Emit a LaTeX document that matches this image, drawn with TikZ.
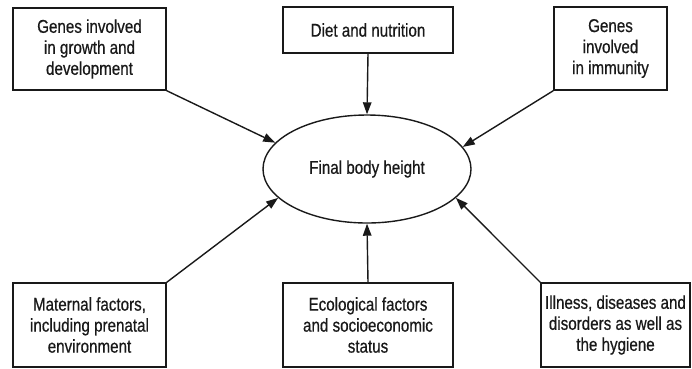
\documentclass[tikz,border=0pt]{standalone}
\usepackage{fontspec}
\setmainfont[FakeStretch=0.82,FakeBold=0.6]{Liberation Sans}
\usetikzlibrary{shapes.geometric,arrows.meta}
\begin{document}
\begin{tikzpicture}[x=1pt,y=-1pt,
  every node/.style={font=\fontsize{18.5}{21}\selectfont, text=black!90},
  box/.style={draw=black!90, line width=1.4pt, rectangle, align=center, inner sep=0pt},
  arr/.style={draw=black!90, line width=1.4pt, -{Triangle[length=12pt,width=8.5pt]}}]
\useasboundingbox (0,0) rectangle (692,368);
\node[box, minimum width=153pt, minimum height=82pt] (b1) at (89.5,49) {Genes involved\\in growth and\\development};
\node[box, minimum width=170pt, minimum height=46pt] (b2) at (368,30) {Diet and nutrition};
\node[box, minimum width=113pt, minimum height=83pt] (b3) at (610.5,48.5) {Genes\\involved\\in immunity};
\node[box, minimum width=153pt, minimum height=84pt] (b4) at (89.5,325) {Maternal factors,\\including prenatal\\environment};
\node[box, minimum width=170pt, minimum height=84pt] (b5) at (368,325) {Ecological factors\\and socioeconomic\\status};
\node[box, minimum width=149pt, minimum height=84pt] (b6) at (615.5,325) {Illness, diseases and\\disorders as well as\\the hygiene};
\node[draw=black!90, line width=1.4pt, ellipse, minimum width=208pt, minimum height=108pt, inner sep=0pt] (e) at (367,169) {Final body height};
\draw[arr] (b1.south east) -- (e.164.9);
\draw[arr] (b2.south) -- (e.north);
\draw[arr] (b3.south west) -- (e.13.3);
\draw[arr] (b4.north east) -- (e.198.4);
\draw[arr] (b5.north) -- (e.south);
\draw[arr] (b6.north west) -- (e.342.1);
\end{tikzpicture}
\end{document}
